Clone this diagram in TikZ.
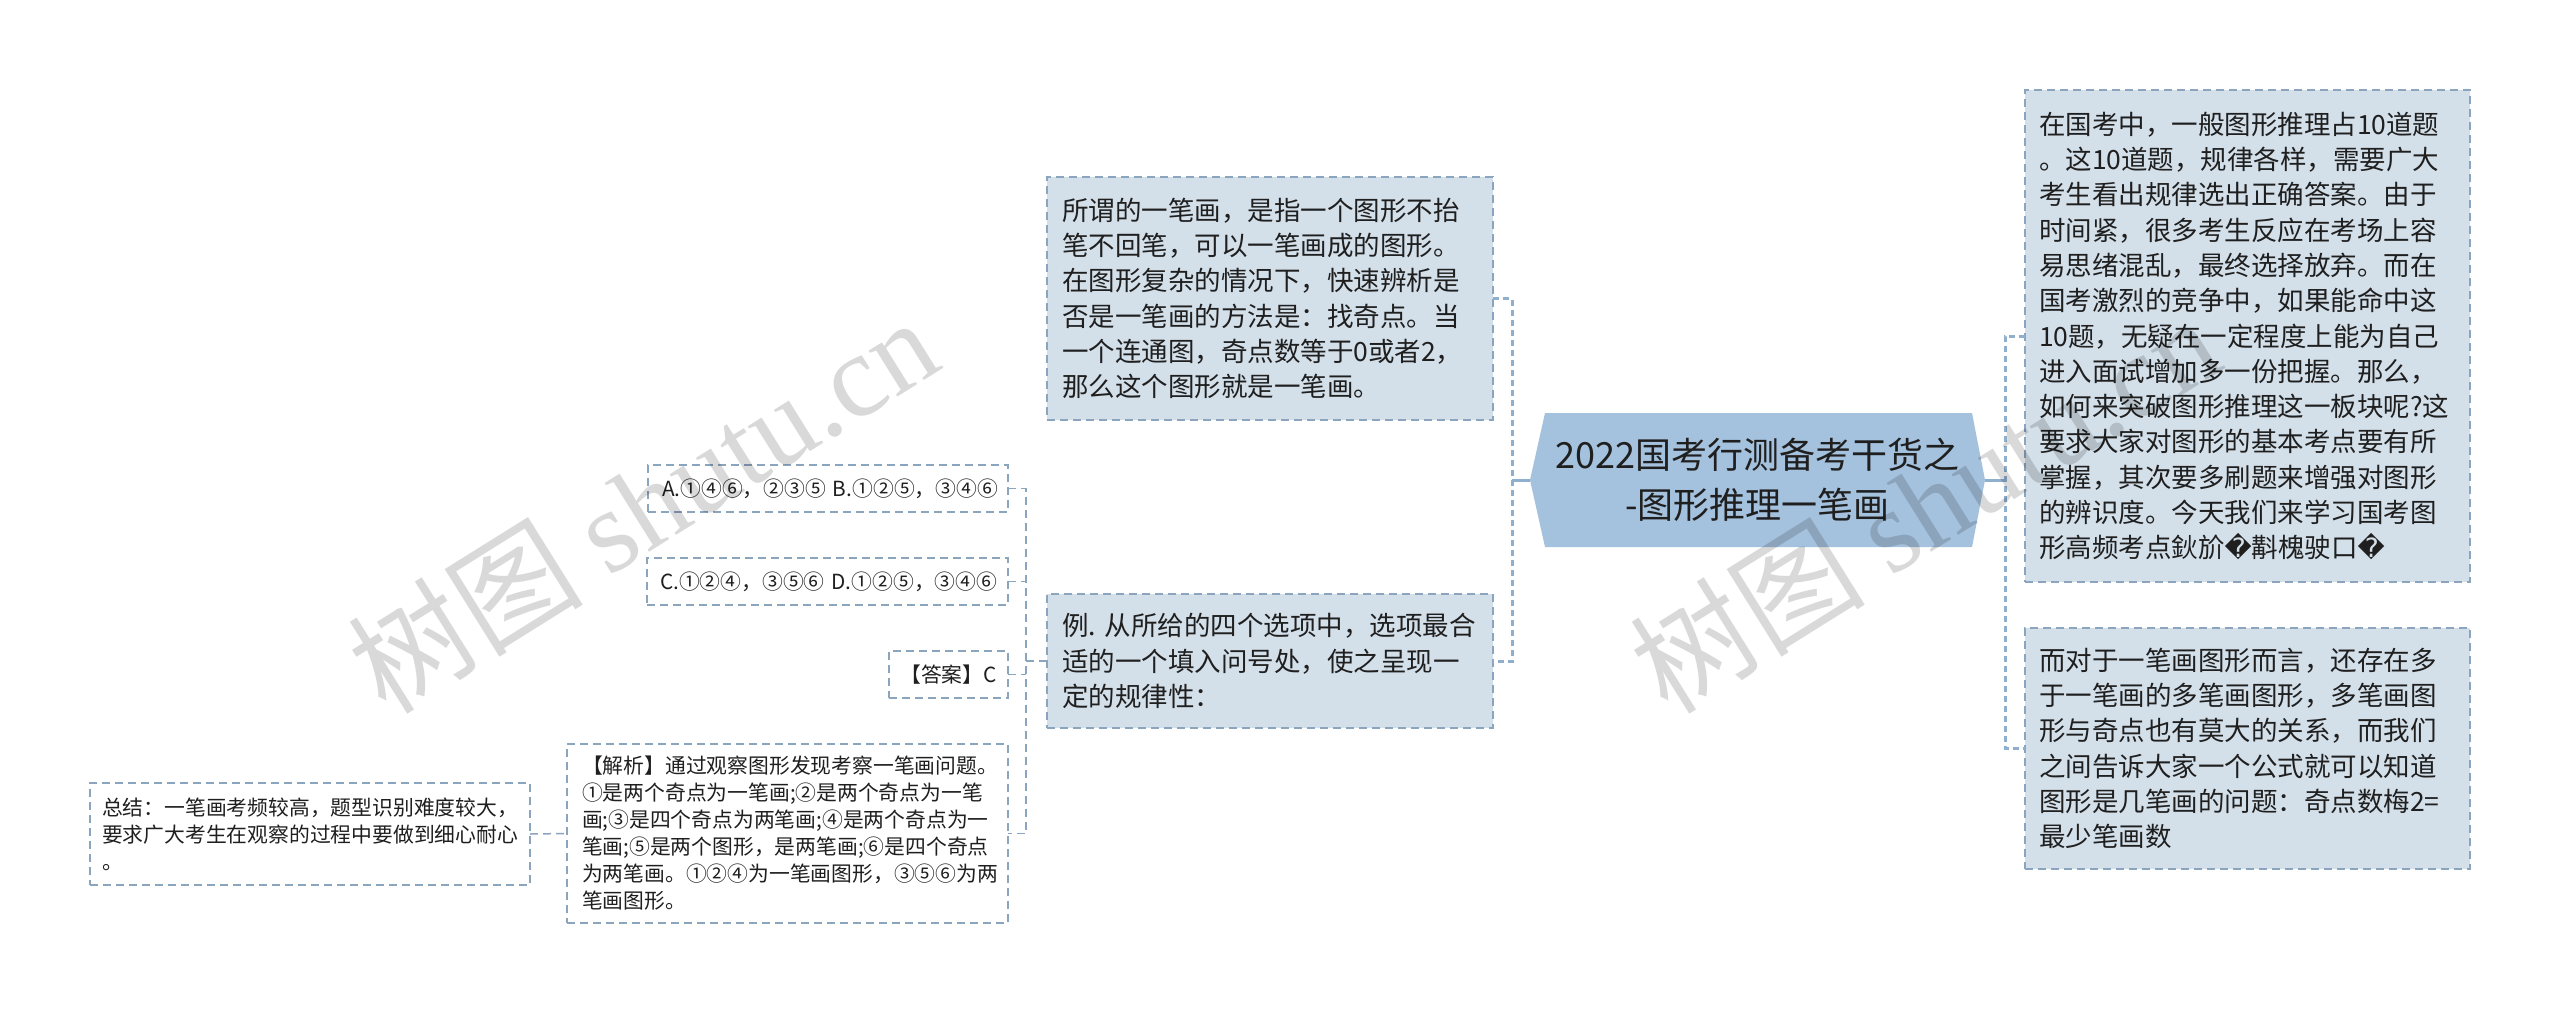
\documentclass[tikz,border=0pt]{standalone}
\usepackage{fontspec}
\setmainfont{Noto Sans CJK SC}
\newfontfamily\dvfont{DejaVu Sans}
\newfontfamily\wmserif{Liberation Serif}
\usetikzlibrary{calc}
\definecolor{boxfill}{HTML}{D3DFE9}
\definecolor{boxline}{HTML}{8CA5BF}
\definecolor{rootfill}{HTML}{A4C1DD}
\definecolor{linkc}{HTML}{8FAFCF}
\definecolor{txt}{HTML}{1F1F1F}
\newcommand{\rc}{{\dvfont\char"FFFD}}
\begin{document}
\begin{tikzpicture}[x=1pt,y=-1pt,
  every node/.style={inner sep=0pt, outer sep=0pt, text=txt},
  lvlone/.style={draw=boxline, fill=boxfill, line width=1.5pt, dash pattern=on 8pt off 5pt, align=left, font=\fontsize{26.5pt}{35.3pt}\selectfont},
  lvltwo/.style={draw=boxline, fill=white, line width=1.5pt, dash pattern=on 8pt off 5pt, align=left, font=\fontsize{20.8pt}{27pt}\selectfont},
  thinlink/.style={draw=boxline, line width=1.5pt, dash pattern=on 8pt off 5pt},
  thicklink/.style={draw=linkc, line width=3pt, dash pattern=on 6pt off 4pt},
  stub/.style={draw=linkc, line width=3pt},
  wm/.style={text=black, text opacity=0.15, rotate=32, anchor=center}
]
\useasboundingbox (0,0) rectangle (2560,1015);
\fill[white] (0,0) rectangle (2560,1015);

% root hexagon
\fill[rootfill] (1530,480) -- (1545,413) -- (1972,413) -- (1985,480) -- (1972,547) -- (1545,547) -- cycle;
\node[minimum width=455pt, minimum height=134pt, align=center, font=\fontsize{36pt}{50pt}\selectfont] (root) at (1757.5,480)
  {2022国考行测备考干货之\\-图形推理一笔画};

% level one boxes
\node[lvlone, inner xsep=15pt, text width=416pt, minimum height=243pt] (d1) at (1270,298.5) {%
所谓的一笔画，是指一个图形不抬\\
笔不回笔，可以一笔画成的图形。\\
在图形复杂的情况下，快速辨析是\\
否是一笔画的方法是：找奇点。当\\
一个连通图，奇点数等于0或者2，\\
那么这个图形就是一笔画。};

\node[lvlone, inner xsep=15pt, text width=416pt, minimum height=134pt] (ex) at (1270,661) {%
例.~从所给的四个选项中，选项最合\\
适的一个填入问号处，使之呈现一\\
定的规律性：};

\node[lvlone, inner xsep=14pt, text width=417pt, minimum height=492pt] (r1) at (2247.5,336) {%
在国考中，一般图形推理占10道题\\
。这10道题，规律各样，需要广大\\
考生看出规律选出正确答案。由于\\
时间紧，很多考生反应在考场上容\\
易思绪混乱，最终选择放弃。而在\\
国考激烈的竞争中，如果能命中这\\
10题，无疑在一定程度上能为自己\\
进入面试增加多一份把握。那么，\\
如何来突破图形推理这一板块呢?这\\
要求大家对图形的基本考点要有所\\
掌握，其次要多刷题来增强对图形\\
的辨识度。今天我们来学习国考图\\
形高频考点鈥斺\rc 斠槐驶口\rc};

\node[lvlone, inner xsep=14pt, text width=417pt, minimum height=241pt] (r2) at (2247.5,748.5) {%
而对于一笔画图形而言，还存在多\\
于一笔画的多笔画图形，多笔画图\\
形与奇点也有莫大的关系，而我们\\
之间告诉大家一个公式就可以知道\\
图形是几笔画的问题：奇点数梅2=\\
最少笔画数};

% level two boxes
\node[lvltwo, inner xsep=14pt, text width=332pt, minimum height=47pt] (oa) at (828,488.5) {\mbox{A.①④⑥，②③⑤~B.①②⑤，③④⑥}};
\node[lvltwo, inner xsep=13pt, text width=335pt, minimum height=47pt] (oc) at (827.5,581.5) {\mbox{C.①②④，③⑤⑥~D.①②⑤，③④⑥}};
\node[lvltwo, minimum width=119pt, minimum height=47pt] (ans) at (948.5,674.5) {【答案】C};
\node[lvltwo, inner xsep=15pt, text width=411pt, minimum height=179pt] (ana) at (787.5,833.5) {%
【解析】通过观察图形发现考察一笔画问题。\\
①是两个奇点为一笔画;②是两个奇点为一笔\\
画;③是四个奇点为两笔画;④是两个奇点为一\\
笔画;⑤是两个图形，是两笔画;⑥是四个奇点\\
为两笔画。①②④为一笔画图形，③⑤⑥为两\\
笔画图形。};
\node[lvltwo, inner xsep=12pt, text width=416pt, minimum height=102pt] (sum) at (310,834) {%
总结：一笔画考频较高，题型识别难度较大，\\
要求广大考生在观察的过程中要做到细心耐心\\
。};

% connectors
\coordinate (ls) at (1512,480);
\coordinate (rs) at (2005,480);
\coordinate (es) at (1026,661);
\draw[stub] (root.west) -- (ls);
\draw[stub] (root.east) -- (rs);
\draw[thicklink] (d1.east) -- (d1.east -| ls) -- (ex.east -| ls) -- (ex.east);
\draw[thicklink] (r1.west) -- (r1.west -| rs) -- (r2.west -| rs) -- (r2.west);
\draw[thinlink] (ex.west) -- (es);
\draw[thinlink] (oa.east) -- (oa.east -| es) -- (ana.east -| es) -- (ana.east);
\draw[thinlink] (oc.east) -- (oc.east -| es);
\draw[thinlink] (ans.east) -- (ans.east -| es);
\draw[thinlink] (sum.east) -- (ana.west);

% watermarks
\node[wm] (wma) at (642,504) {\fontsize{118pt}{118pt}\selectfont 树图 {\wmserif shutu.cn}};
\node[wm] (wmb) at (1924,504) {\fontsize{118pt}{118pt}\selectfont 树图 {\wmserif shutu.cn}};
\end{tikzpicture}
\end{document}
